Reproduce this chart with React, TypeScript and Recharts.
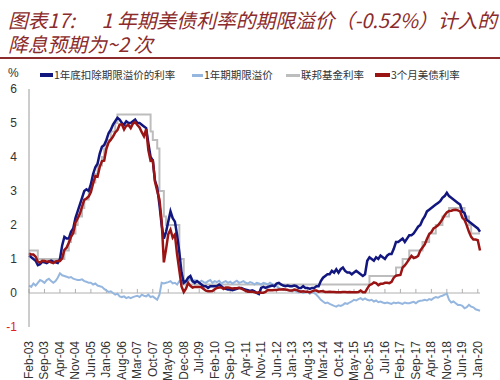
import React from 'react';
import { LineChart, Line, XAxis, YAxis, ReferenceLine } from 'recharts';

const MONTH_NAMES = ['Jan', 'Feb', 'Mar', 'Apr', 'May', 'Jun', 'Jul', 'Aug', 'Sep', 'Oct', 'Nov', 'Dec'];
const START_YEAR = 2003;
const START_MONTH = 1; // Feb
const MONTH_COUNT = 205; // Feb-03 .. Feb-20

const categories: string[] = Array.from({ length: MONTH_COUNT }, (_, i) => {
  const m = (START_MONTH + i) % 12;
  const y = START_YEAR + Math.floor((START_MONTH + i) / 12);
  return `${MONTH_NAMES[m]}-${String(y % 100).padStart(2, '0')}`;
});

const yTicks = [-1, 0, 1, 2, 3, 4, 5, 6];

// 1年底扣除期限溢价的利率 (monthly, Feb-03 .. Feb-20)
const exTermPremium = [
  1.1, 1.05, 1.0, 0.95, 0.82, 0.85, 0.92, 0.9, 0.88, 0.92, 0.95,
  0.92, 0.9, 0.88, 1.0, 1.4, 1.65, 1.6, 1.6, 1.8, 1.9, 2.2, 2.4,
  2.6, 2.8, 3.0, 3.05, 3.0, 3.2, 3.5, 3.7, 3.8, 4.1, 4.3, 4.35,
  4.5, 4.7, 4.8, 4.95, 5.05, 5.15, 5.1, 5.0, 4.95, 5.05, 5.0, 5.0,
  5.05, 5.1, 5.0, 5.0, 4.95, 4.9, 4.85, 4.4, 4.0, 3.9, 3.3, 3.1,
  2.6, 2.0, 1.6, 1.8, 2.1, 2.4, 2.2, 2.1, 1.7, 1.2, 0.6, 0.3,
  0.35, 0.45, 0.5, 0.35, 0.3, 0.35, 0.3, 0.25, 0.2, 0.2, 0.15, 0.2,
  0.2, 0.2, 0.2, 0.25, 0.2, 0.15, 0.12, 0.1, 0.1, 0.08, 0.1, 0.12,
  0.15, 0.15, 0.12, 0.1, 0.08, 0.06, 0.08, 0.05, 0.0, -0.03, 0.15, 0.18,
  0.15, 0.18, 0.2, 0.22, 0.2, 0.28, 0.3, 0.25, 0.22, 0.2, 0.22, 0.2,
  0.2, 0.22, 0.2, 0.15, 0.15, 0.2, 0.15, 0.15, 0.12, 0.15, 0.15, 0.2,
  0.2, 0.35, 0.45, 0.5, 0.55, 0.55, 0.65, 0.6, 0.7, 0.6, 0.7, 0.75,
  0.65, 0.6, 0.6, 0.55, 0.6, 0.65, 0.6, 0.55, 0.5, 0.55, 0.95, 1.05,
  1.0, 0.95, 1.05, 1.0, 1.1, 1.05, 1.0, 1.1, 1.15, 1.15, 1.3, 1.5,
  1.5, 1.55, 1.6, 1.5, 1.6, 1.7, 1.7, 1.75, 1.85, 1.95, 2.0, 2.15,
  2.25, 2.4, 2.45, 2.5, 2.55, 2.6, 2.65, 2.7, 2.8, 2.85, 2.95, 2.85,
  2.8, 2.75, 2.7, 2.65, 2.6, 2.4, 2.35, 2.15, 2.1, 2.05, 2.0, 1.95,
  1.9, 1.8,
];

// 1年期期限溢价
const termPremium = [
  0.22, 0.18, 0.28, 0.22, 0.3, 0.38, 0.35, 0.3, 0.38, 0.42, 0.35,
  0.3, 0.35, 0.45, 0.58, 0.52, 0.5, 0.48, 0.45, 0.47, 0.42, 0.4, 0.38,
  0.38, 0.4, 0.35, 0.33, 0.3, 0.3, 0.25, 0.28, 0.22, 0.2, 0.18, 0.12,
  0.08, 0.03, 0.05, 0.0, -0.05, -0.02, -0.1, -0.12, -0.1, -0.15, -0.12, -0.15,
  -0.12, -0.1, -0.08, -0.12, -0.05, -0.08, -0.1, -0.05, -0.12, -0.1, -0.15, -0.2,
  -0.05, 0.3, 0.28, 0.3, 0.32, 0.35, 0.28, 0.3, 0.25, 0.35, 0.3, 0.28,
  0.3, 0.35, 0.4, 0.32, 0.38, 0.35, 0.3, 0.36, 0.32, 0.3, 0.35, 0.38,
  0.3, 0.35, 0.32, 0.36, 0.28, 0.32, 0.35, 0.3, 0.33, 0.28, 0.32, 0.36,
  0.3, 0.32, 0.35, 0.3, 0.28, 0.32, 0.3, 0.25, 0.3, 0.28, 0.25, 0.3,
  0.28, 0.25, 0.3, 0.26, 0.22, 0.2, 0.15, 0.12, 0.1, 0.08, 0.1, 0.06,
  0.05, 0.08, 0.04, 0.02, 0.06, 0.0, 0.03, 0.05, -0.02, 0.02, 0.0, -0.05,
  -0.12, -0.2, -0.25, -0.3, -0.28, -0.32, -0.35, -0.38, -0.4, -0.36, -0.38, -0.35,
  -0.3, -0.32, -0.28, -0.25, -0.2, -0.22, -0.18, -0.15, -0.2, -0.16, -0.2, -0.22,
  -0.2, -0.25, -0.22, -0.27, -0.25, -0.28, -0.3, -0.28, -0.3, -0.32, -0.28, -0.3,
  -0.28, -0.3, -0.32, -0.28, -0.3, -0.3, -0.28, -0.26, -0.3, -0.25, -0.23, -0.22,
  -0.2, -0.22, -0.18, -0.2, -0.15, -0.12, -0.14, -0.1, -0.08, -0.05, -0.02, -0.2,
  -0.28, -0.25, -0.3, -0.35, -0.35, -0.38, -0.45, -0.42, -0.35, -0.4, -0.42, -0.48,
  -0.5, -0.52,
];

// 联邦基金利率 (target upper bound)
const fedFunds = [
  1.25, 1.25, 1.25, 1.25, 1.0, 1.0, 1.0, 1.0, 1.0, 1.0, 1.0,
  1.0, 1.0, 1.0, 1.0, 1.0, 1.25, 1.25, 1.5, 1.75, 1.75, 2.0, 2.25,
  2.25, 2.5, 2.75, 2.75, 3.0, 3.25, 3.25, 3.5, 3.75, 3.75, 4.0, 4.25,
  4.5, 4.5, 4.75, 4.75, 5.0, 5.25, 5.25, 5.25, 5.25, 5.25, 5.25, 5.25,
  5.25, 5.25, 5.25, 5.25, 5.25, 5.25, 5.25, 5.25, 4.75, 4.5, 4.5, 4.25,
  3.0, 3.0, 2.25, 2.0, 2.0, 2.0, 2.0, 2.0, 2.0, 1.0, 1.0, 0.25,
  0.25, 0.25, 0.25, 0.25, 0.25, 0.25, 0.25, 0.25, 0.25, 0.25, 0.25, 0.25,
  0.25, 0.25, 0.25, 0.25, 0.25, 0.25, 0.25, 0.25, 0.25, 0.25, 0.25, 0.25,
  0.25, 0.25, 0.25, 0.25, 0.25, 0.25, 0.25, 0.25, 0.25, 0.25, 0.25, 0.25,
  0.25, 0.25, 0.25, 0.25, 0.25, 0.25, 0.25, 0.25, 0.25, 0.25, 0.25, 0.25,
  0.25, 0.25, 0.25, 0.25, 0.25, 0.25, 0.25, 0.25, 0.25, 0.25, 0.25, 0.25,
  0.25, 0.25, 0.25, 0.25, 0.25, 0.25, 0.25, 0.25, 0.25, 0.25, 0.25, 0.25,
  0.25, 0.25, 0.25, 0.25, 0.25, 0.25, 0.25, 0.25, 0.25, 0.25, 0.25, 0.5,
  0.5, 0.5, 0.5, 0.5, 0.5, 0.5, 0.5, 0.5, 0.5, 0.5, 0.5, 0.75,
  0.75, 0.75, 1.0, 1.0, 1.0, 1.25, 1.25, 1.25, 1.25, 1.25, 1.25, 1.5,
  1.5, 1.5, 1.75, 1.75, 1.75, 2.0, 2.0, 2.0, 2.25, 2.25, 2.25, 2.5,
  2.5, 2.5, 2.5, 2.5, 2.5, 2.5, 2.25, 2.25, 2.0, 1.75, 1.75, 1.75,
  1.75, 1.75,
];

// 3个月美债利率
const tBill3m = [
  1.17, 1.13, 1.13, 1.07, 0.92, 0.9, 0.95, 0.94, 0.92, 0.93, 0.9,
  0.88, 0.93, 0.94, 0.94, 1.02, 1.27, 1.33, 1.48, 1.65, 1.76, 2.07, 2.19,
  2.33, 2.54, 2.74, 2.78, 2.84, 2.97, 3.22, 3.44, 3.42, 3.71, 3.88, 3.89,
  4.24, 4.43, 4.51, 4.6, 4.72, 4.79, 4.95, 4.96, 4.81, 4.92, 4.94, 4.85,
  4.98, 5.03, 4.94, 4.87, 4.73, 4.61, 4.82, 4.2, 3.89, 3.9, 3.27, 3.0,
  2.75, 2.12, 0.9, 1.29, 1.73, 1.86, 1.63, 1.72, 1.13, 0.67, 0.19, 0.03,
  0.13, 0.3, 0.21, 0.16, 0.18, 0.18, 0.18, 0.17, 0.12, 0.07, 0.05, 0.05,
  0.06, 0.11, 0.15, 0.16, 0.16, 0.12, 0.16, 0.16, 0.15, 0.13, 0.14, 0.14,
  0.15, 0.13, 0.1, 0.06, 0.04, 0.04, 0.04, 0.02, 0.01, 0.02, 0.01, 0.01,
  0.03, 0.09, 0.08, 0.08, 0.09, 0.09, 0.1, 0.1, 0.11, 0.1, 0.09, 0.07,
  0.07, 0.1, 0.09, 0.06, 0.04, 0.05, 0.04, 0.04, 0.02, 0.05, 0.07, 0.07,
  0.04, 0.05, 0.05, 0.03, 0.03, 0.04, 0.03, 0.03, 0.02, 0.02, 0.02, 0.03,
  0.03, 0.02, 0.03, 0.02, 0.02, 0.02, 0.03, 0.07, 0.02, 0.02, 0.13, 0.23,
  0.26, 0.31, 0.29, 0.23, 0.27, 0.27, 0.3, 0.3, 0.29, 0.33, 0.45, 0.51,
  0.52, 0.53, 0.75, 0.81, 0.9, 1.0, 1.09, 1.03, 1.05, 1.09, 1.25, 1.34,
  1.43, 1.59, 1.73, 1.79, 1.9, 1.94, 1.99, 2.07, 2.17, 2.29, 2.37, 2.41,
  2.42, 2.44, 2.45, 2.43, 2.4, 2.22, 2.15, 1.99, 1.8, 1.65, 1.57, 1.57,
  1.55, 1.25,
];

const SERIES = [
  { key: 'exTP', name: '1年底扣除期限溢价的利率', color: '#12167f', width: 2.5, legendW: 4 },
  { key: 'tp', name: '1年期期限溢价', color: '#95b6de', width: 2, legendW: 3 },
  { key: 'fed', name: '联邦基金利率', color: '#bdbdbd', width: 2, legendW: 3 },
  { key: 'tb', name: '3个月美债利率', color: '#9a1414', width: 2.5, legendW: 4 },
];

const TITLE = '图表17:      1 年期美债利率的期限溢价（-0.52%）计入的\n降息预期为~2 次';

const data = categories.map((c, i) => ({
  date: c,
  exTP: exTermPremium[i],
  tp: termPremium[i],
  fed: fedFunds[i],
  tb: tBill3m[i],
}));

const tickCats = categories.filter((_, i) => i % 7 === 0);

const FONT_NUM = '"Liberation Sans", Arial, sans-serif';
const FONT_CJK = '"Noto Sans CJK SC", "Liberation Sans", sans-serif';

const XTick = (props: any) => {
  const { x, y, payload } = props;
  return (
    <g transform={`translate(${x},${y})`}>
      <text
        transform="rotate(-90)"
        x={-6}
        y={0}
        dy={4}
        textAnchor="end"
        fontSize={12}
        fontFamily={FONT_NUM}
        fill="#333"
      >
        {payload.value}
      </text>
    </g>
  );
};

const YTick = (props: any) => {
  const { x, y, payload } = props;
  return (
    <text
      x={x}
      y={y}
      dy={4}
      textAnchor="end"
      fontSize={12}
      fontFamily={FONT_NUM}
      fill={payload.value < 0 ? '#e02020' : '#333'}
    >
      {payload.value}
    </text>
  );
};

const legendLayout = [
  { lineX: 40, lineW: 13, textX: 54 },
  { lineX: 192, lineW: 11, textX: 204 },
  { lineX: 286, lineW: 14, textX: 301 },
  { lineX: 375, lineW: 15, textX: 391 },
];

export default function App() {
  return (
    <div style={{ position: 'absolute', left: 0, top: 0, width: 500, height: 380, background: '#fff', overflow: 'hidden' }}>
      <div
        style={{
          position: 'absolute',
          left: 8,
          top: 8,
          fontFamily: FONT_CJK,
          fontStyle: 'italic',
          fontSize: 19.8,
          lineHeight: '24px',
          color: '#8c2b2b',
          whiteSpace: 'pre',
        }}
      >
        {TITLE}
      </div>
      <div style={{ position: 'absolute', left: 0, top: 57, width: 500, height: 2, background: '#8c2b2b' }} />
      <div style={{ position: 'absolute', left: 8, top: 66, fontFamily: FONT_NUM, fontSize: 12, color: '#333' }}>%</div>
      {SERIES.map((s, i) => (
        <React.Fragment key={s.key}>
          <div
            style={{
              position: 'absolute',
              left: legendLayout[i].lineX,
              top: 75 - s.legendW / 2,
              width: legendLayout[i].lineW,
              height: s.legendW,
              background: s.color,
            }}
          />
          <div
            style={{
              position: 'absolute',
              left: legendLayout[i].textX,
              top: 68,
              fontFamily: FONT_CJK,
              fontSize: 10.5,
              lineHeight: '14px',
              color: '#333',
              whiteSpace: 'nowrap',
            }}
          >
            {s.name}
          </div>
        </React.Fragment>
      ))}
      <div style={{ position: 'absolute', left: 0, top: 0 }}>
        <LineChart width={500} height={380} data={data} margin={{ top: 89, right: 20, left: 5, bottom: 5 }}>
          <XAxis
            dataKey="date"
            interval={6}
            height={48}
            axisLine={false}
            tickLine={false}
            tick={<XTick />}
          />
          <YAxis
            domain={[-1, 6]}
            ticks={yTicks}
            width={24}
            axisLine={{ stroke: '#9a9a9a', strokeWidth: 1 }}
            tickLine={false}
            tickSize={0}
            tickMargin={12}
            tick={<YTick />}
            allowDataOverflow
          />
          <ReferenceLine y={0} stroke="#b0b0b0" strokeWidth={1} />
          {tickCats.map((c) => (
            <ReferenceLine
              key={c}
              segment={[
                { x: c, y: 0 },
                { x: c, y: 0.12 },
              ]}
              stroke="#b0b0b0"
              strokeWidth={1}
            />
          ))}
          <Line type="stepAfter" dataKey="fed" stroke="#bdbdbd" strokeWidth={2} dot={false} isAnimationActive={false} />
          <Line type="linear" dataKey="tp" stroke="#95b6de" strokeWidth={2} dot={false} isAnimationActive={false} />
          <Line type="linear" dataKey="exTP" stroke="#12167f" strokeWidth={2.5} dot={false} isAnimationActive={false} />
          <Line type="linear" dataKey="tb" stroke="#9a1414" strokeWidth={2.5} dot={false} isAnimationActive={false} />
        </LineChart>
      </div>
    </div>
  );
}
